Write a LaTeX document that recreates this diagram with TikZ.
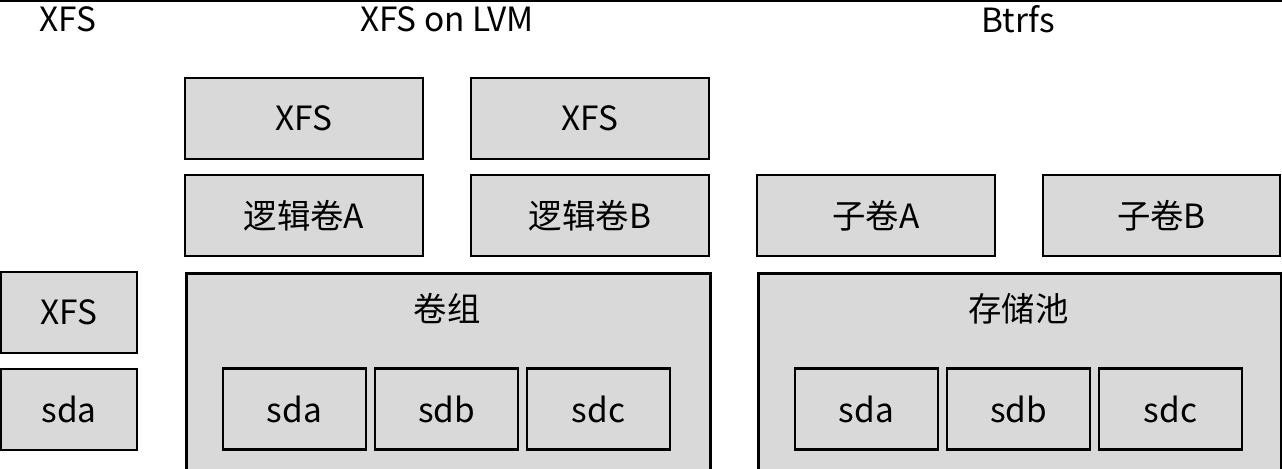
\documentclass[tikz,border=0pt]{standalone}
\usepackage{fontspec}
\setmainfont{Noto Sans CJK SC}
\usetikzlibrary{positioning}

\tikzset{
  block/.style={draw, line width=1.6pt, fill=black!15, inner sep=0pt,
    minimum height=1.62cm, font=\fontsize{19}{22}\selectfont},
  wideblock/.style={block, minimum width=4.76cm},
  diskblock/.style={block, minimum width=2.86cm},
  groupbox/.style={draw, line width=1.6pt, fill=black!15, inner sep=0pt,
    anchor=north west, minimum width=10.48cm, minimum height=5cm},
  title/.style={font=\fontsize{19}{22}\selectfont},
}

\begin{document}
\begin{tikzpicture}[x=0.02cm, y=-0.02cm]
        \clip (0,0) rectangle (1282,469);
        \useasboundingbox (0,0) rectangle (1282,469);
        % Top rule
        \draw [line width=1.2pt] (0,0.6) -- (1282,0.6);
        % Titles
        \node [title] (t-xfs) at (68,19) {XFS};
        \node [title] (t-lvm) at (447,19) {XFS on LVM};
        \node [title] (t-btrfs) at (1018,19) {Btrfs};
        % Plain XFS
        \node [block, minimum width=2.72cm] (xfs) at (69,312.5) {XFS};
        \node [block, minimum width=2.72cm] (xfs-sda) at (69,409.5) {sda};
        % XFS on LVM
        \node [wideblock] (lvm-xfsa) at (304,118.5) {XFS};
        \node [wideblock] (lvm-xfsb) at (590,118.5) {XFS};
        \node [wideblock] (lva) at (304,215.5) {逻辑卷A};
        \node [wideblock] (lvb) at (590,215.5) {逻辑卷B};
        \node [groupbox] (vg) at (185,272) {};
        \node [title] (vg-label) at (447,309) {卷组};
            \foreach \d/\x in {a/294.5, b/446.5, c/598.5}
        {
        \node [diskblock] (lvm-sd\d) at (\x,409) {sd\d};
        }
        % Btrfs
        \node [wideblock] (suba) at (876,215.5) {子卷A};
        \node [wideblock, minimum width=4.74cm] (subb) at (1161.5,215.5) {子卷B};
        \node [groupbox, minimum width=10.46cm] (pool) at (757,272) {};
        \node [title] (pool-label) at (1018.5,309) {存储池};
            \foreach \d/\x in {a/866.5, b/1018.5, c/1170.5}
        {
        \node [diskblock] (btrfs-sd\d) at (\x,409) {sd\d};
        }
        \end{tikzpicture}
\end{document}
